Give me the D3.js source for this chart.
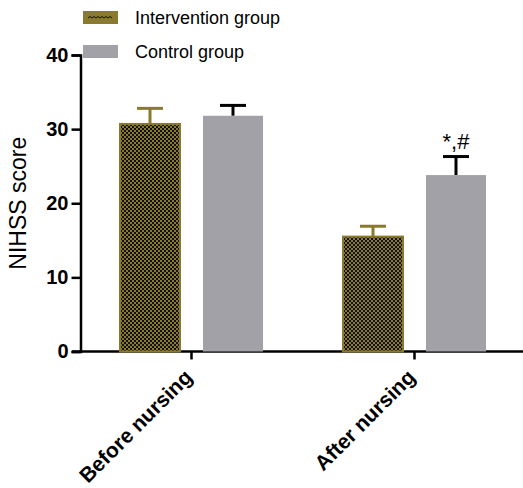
<!DOCTYPE html>
<html>
<head>
<meta charset="utf-8">
<script src="https://cdn.jsdelivr.net/npm/d3@7"></script>
<style>
  body { margin: 0; background: #fff; }
  text { font-family: Arial, "Liberation Sans", sans-serif; }
</style>
</head>
<body>
<script>
const categories = ["Before nursing", "After nursing"];
const groups     = ["Intervention group", "Control group"];
const means      = { "Intervention group": [30.7, 15.5], "Control group": [31.8, 23.8] };
const errs       = { "Intervention group": [2.1, 1.4],  "Control group": [1.4, 2.5] };
const yTicks     = [0, 10, 20, 30, 40];
const signif     = ["", "*,#"];   // marks above control bars

const W = 523, H = 488;
const olive = "#8a7a2e", grey = "#a1a1a7";
const errColors = { "Intervention group": olive, "Control group": "#000" };

const svg = d3.select("body").append("svg")
  .attr("width", W).attr("height", H);

// dotted pattern for intervention bars
const pat = svg.append("defs").append("pattern")
  .attr("id", "dots")
  .attr("patternUnits", "userSpaceOnUse")
  .attr("width", 4).attr("height", 4);
pat.append("rect").attr("width", 4).attr("height", 4).attr("fill", "#111");
pat.append("rect").attr("x", 0).attr("y", 0).attr("width", 2).attr("height", 2).attr("fill", olive);
pat.append("rect").attr("x", 2).attr("y", 2).attr("width", 2).attr("height", 2).attr("fill", olive);

const x0 = d3.scaleBand().domain(categories).range([80, 526]);
const x1 = d3.scaleBand().domain(groups).range([0, x0.bandwidth()])
  .paddingInner(0.277).paddingOuter(0.482);
const y = d3.scaleLinear().domain([0, 40]).range([351.5, 55]);

// y axis
const yAxis = svg.append("g")
  .attr("transform", "translate(80.5,0)")
  .call(d3.axisLeft(y).tickValues(yTicks).tickSize(9).tickPadding(3));
yAxis.select(".domain").attr("stroke", "#000").attr("stroke-width", 2.5);
yAxis.selectAll(".tick line").attr("stroke-width", 2.5);
yAxis.selectAll("text")
  .attr("font-size", 20).attr("font-weight", "bold").attr("fill", "#000");

// x axis
const xAxis = svg.append("g")
  .attr("transform", `translate(0,${y(0)})`)
  .call(d3.axisBottom(x0).tickSize(8).tickSizeOuter(0));
xAxis.select(".domain").attr("d", "M72,0H523").attr("stroke", "#000").attr("stroke-width", 2.5);
xAxis.selectAll(".tick line").attr("stroke-width", 2.5);
xAxis.selectAll("text")
  .attr("font-size", 21).attr("font-weight", "bold").attr("fill", "#000")
  .attr("text-anchor", "end")
  .attr("y", 0).attr("dy", 0)
  .attr("transform", "translate(2,27) rotate(-45)");

// y title
svg.append("text")
  .attr("transform", `translate(26,${(y(0) + y(40)) / 2}) rotate(-90)`)
  .attr("text-anchor", "middle")
  .attr("font-size", 23).attr("fill", "#000")
  .text("NIHSS score");

// bars
const cat = svg.selectAll(".cat").data(categories).enter().append("g")
  .attr("transform", d => `translate(${x0(d)},0)`);

groups.forEach(g => {
  const cx = x1(g) + x1.bandwidth() / 2;
  cat.append("line")
    .attr("x1", cx).attr("x2", cx)
    .attr("y1", (d, i) => y(means[g][i]))
    .attr("y2", (d, i) => y(means[g][i] + errs[g][i]))
    .attr("stroke", errColors[g]).attr("stroke-width", 3);
  cat.append("line")
    .attr("x1", cx - 13).attr("x2", cx + 13)
    .attr("y1", (d, i) => y(means[g][i] + errs[g][i]))
    .attr("y2", (d, i) => y(means[g][i] + errs[g][i]))
    .attr("stroke", errColors[g]).attr("stroke-width", 3);
  cat.append("rect")
    .attr("x", x1(g))
    .attr("width", x1.bandwidth())
    .attr("y", (d, i) => y(means[g][i]))
    .attr("height", (d, i) => y(0) - y(means[g][i]))
    .attr("fill", g === groups[0] ? "url(#dots)" : grey)
    .attr("stroke", g === groups[0] ? olive : "none")
    .attr("stroke-width", 2);
});

// significance marks
cat.append("text")
  .attr("x", x1(groups[1]) + x1.bandwidth() / 2)
  .attr("y", (d, i) => y(means[groups[1]][i] + errs[groups[1]][i]) - 8)
  .attr("text-anchor", "middle")
  .attr("font-size", 22).attr("fill", "#000")
  .text((d, i) => signif[i]);

// legend
const leg = svg.selectAll(".leg").data(groups).enter().append("g")
  .attr("transform", (d, i) => `translate(83,${11 + i * 34})`);
leg.append("rect")
  .attr("width", 35).attr("height", 13)
  .attr("fill", d => d === groups[0] ? olive : grey);
leg.filter((d, i) => i === 0).append("path")
  .attr("d", "M5,7 l2,-1.5 l2,1.5 l2,-1.5 l2,1.5 l2,-1.5 l2,1.5 l2,-1.5 l2,1.5 l2,-1.5 l2,1.5 l2,-1.5 l2,1.5")
  .attr("fill", "none").attr("stroke", "#111").attr("stroke-width", 1);
leg.append("text")
  .attr("x", 52).attr("y", 13)
  .attr("font-size", 18).attr("fill", "#000")
  .text(d => d);
</script>
</body>
</html>
